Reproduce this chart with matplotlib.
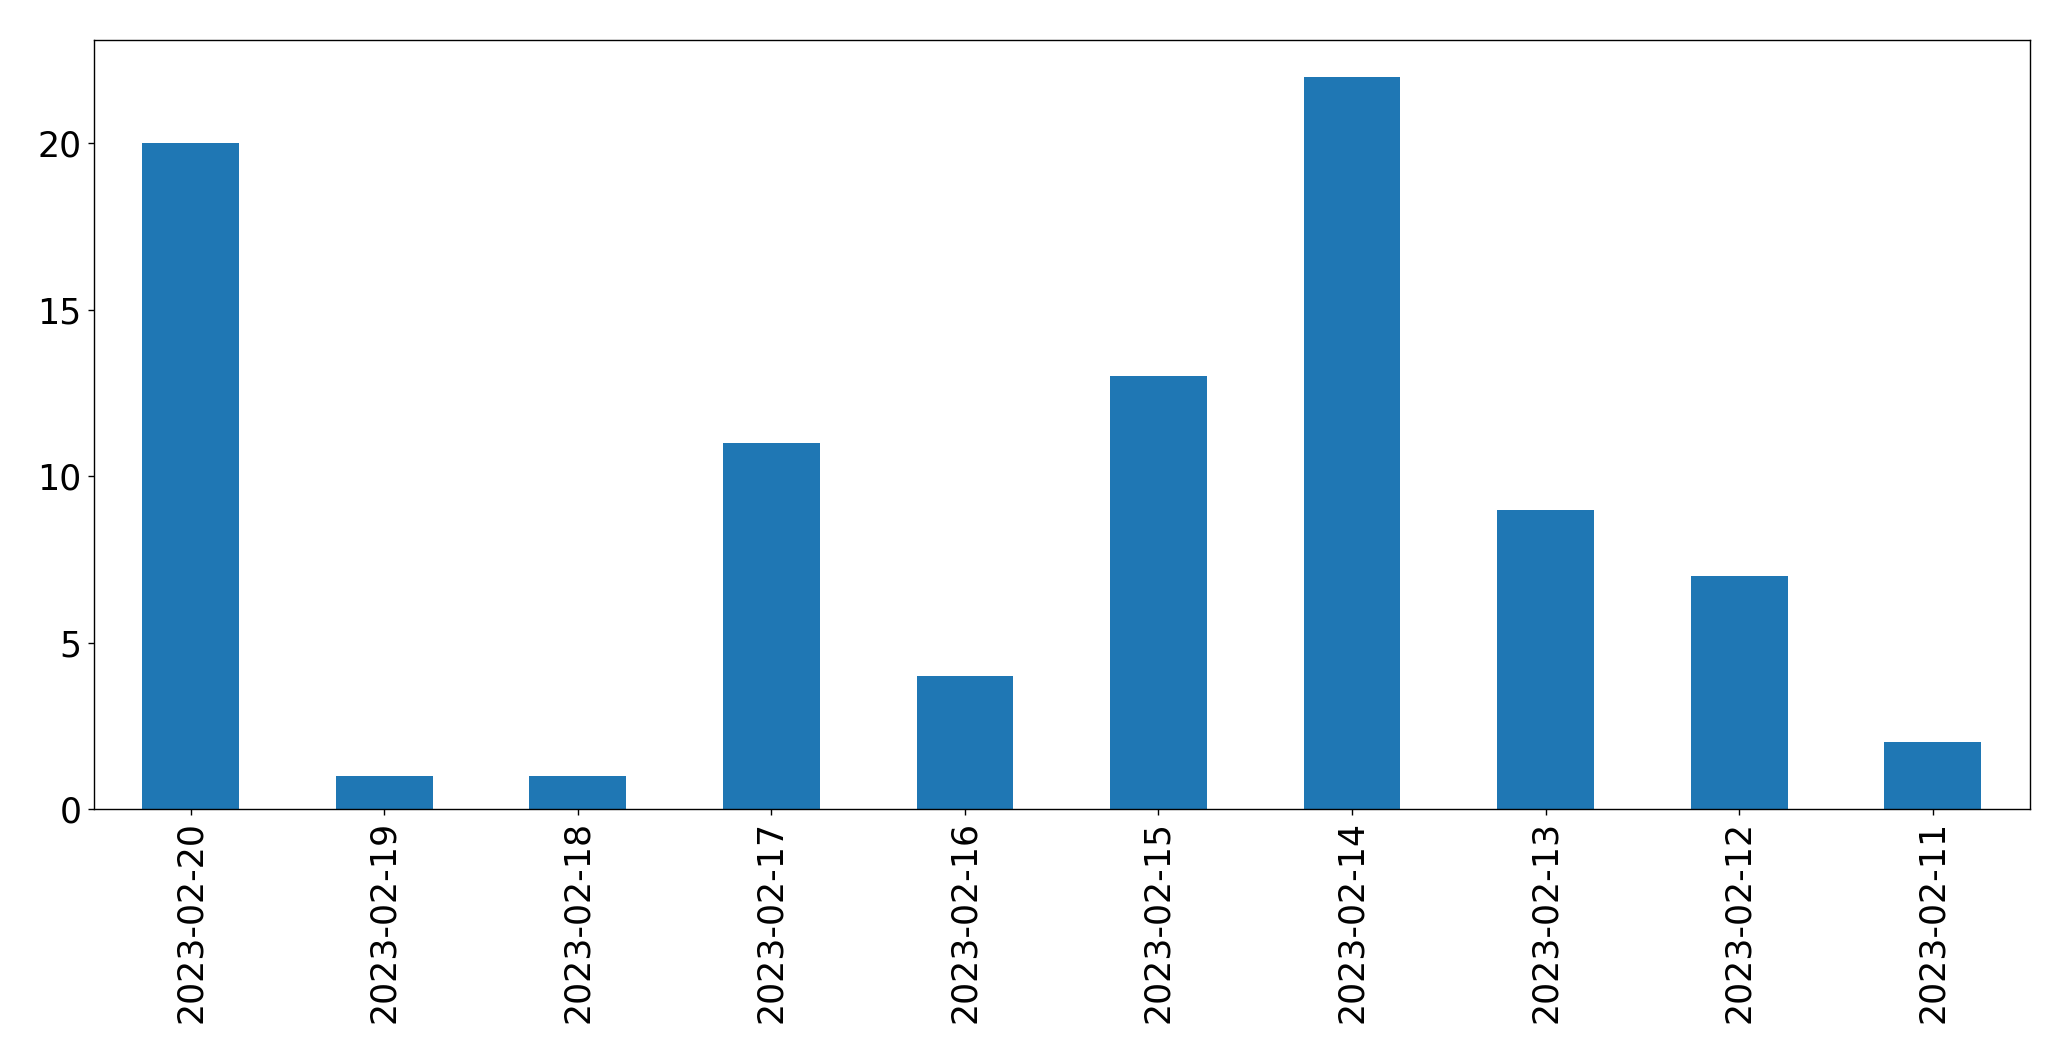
import matplotlib
matplotlib.use('Agg')
from matplotlib import pyplot as plt
import pandas as pd

# dates in the order they appear on the x axis
dates = ['2023-02-20', '2023-02-19', '2023-02-18', '2023-02-17', '2023-02-16',
         '2023-02-15', '2023-02-14', '2023-02-13', '2023-02-12', '2023-02-11']
counts = [20, 1, 1, 11, 4, 13, 22, 9, 7, 2]

s = pd.Series(counts, index=dates)

fig = plt.figure(figsize=(2071 / 125, 1061 / 125), dpi=125)
ax = fig.add_axes([0.0453, 0.2375, 0.9347, 0.7245])
s.plot(kind='bar', ax=ax, color='#1f77b4', fontsize=20)
ax.tick_params(axis='both', labelsize=20)

fig.savefig('out.png', dpi=125)
